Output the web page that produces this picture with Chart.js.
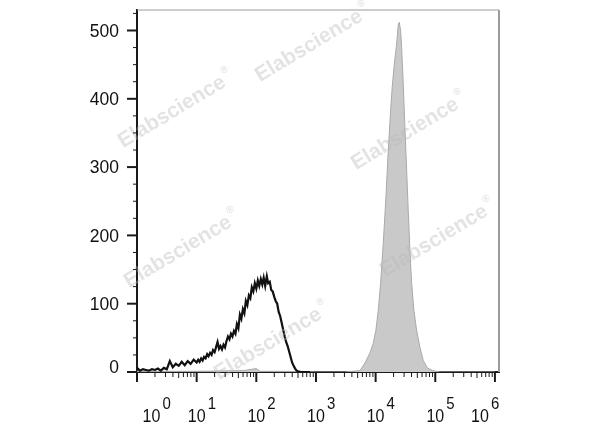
<!DOCTYPE html>
<html><head><meta charset="utf-8">
<script src="https://cdn.jsdelivr.net/npm/chart.js@4.4.1/dist/chart.umd.min.js"></script>
<style>html,body{margin:0;padding:0;background:#fff;}canvas{display:block;}</style>
</head><body>
<canvas id="c" width="600" height="427"></canvas>
<script>
// ---- data ----
// black (unstained / control) histogram: fluorescence intensity and counts
const blackX = [1.0,1.12,1.26,1.41,1.58,1.78,2.0,2.24,2.51,2.82,3.16,3.55,3.98,4.47,5.01,5.62,6.31,7.08,7.94,8.91,
  10,10.6,11.2,11.9,12.6,13.3,14.1,15.0,15.8,16.8,17.8,18.8,20,21.1,22.4,23.7,25.1,26.6,28.2,29.9,
  31.6,33.5,35.5,37.6,39.8,42.2,44.7,47.3,50.1,53.1,56.2,59.6,63.1,66.8,70.8,75.0,79.4,84.1,89.1,94.4,
  100,106,112,119,126,133,141,150,158,168,178,188,200,211,224,237,251,266,282,299,
  316,335,355,376,398,422,447,474,501,562,631,800];
const blackY = [6,2,4,3,2,4,3,5,2,6,4,16,7,12,9,15,10,16,12,18,
  14,18,15,20,17,22,20,26,23,28,25,32,29,36,44,34,38,33,40,36,
  45,52,48,56,52,60,56,70,64,84,78,92,86,104,98,112,108,124,118,130,
  122,134,126,136,128,138,126,140,130,132,120,118,110,104,100,88,82,72,62,52,
  44,38,30,22,14,9,5,2,1,0,0,0];

// gray (stained) histogram: fluorescence intensity and counts
const grayX = [1,10,60,100,115,300,1000,3000,5460,6620,8040,9120,10100,11070,12130,13430,14890,16290,17860,
  19010,20510,22490,23930,24890,26240,27290,29040,30970,33110,35240,37580,40180,43850,48640,55340,62810,
  73280,91410,120000,1000000];
const grayY = [1,1,2,5,1,1,0,0,2,13,28,42,61,90,130,188,256,324,383,
  418,450,480,508,512,500,475,422,358,296,236,178,130,90,61,36,17,
  6,2,0,0];

// axis ticks
const yTickValues = [0,100,200,300,400,500];
const yTickLabels = ['0','100','200','300','400','500'];
const yMinorStep = 25;
const xDecadeExponents = [0,1,2,3,4,5,6];
const xTickBase = '10';
const xTickExponents = ['0','1','2','3','4','5','6'];
const watermarkText = 'Elabscience';

const toPoints = (xs, ys) => xs.map((v, i) => ({x: v, y: ys[i]}));

const watermarkPlugin = {
  id: 'watermark',
  afterDatasetsDraw(chart) {
    const ctx = chart.ctx;
    const spots = [[309,46],[172,112],[405,134],[434,241],[178,252],[268,344]];
    ctx.save();
    ctx.fillStyle = 'rgba(185,185,185,0.4)';
    spots.forEach(([cx, cy]) => {
      ctx.save();
      ctx.translate(cx, cy);
      ctx.rotate(-31 * Math.PI / 180);
      ctx.font = 'bold 21px "Liberation Sans", Arial, sans-serif';
      ctx.textAlign = 'center';
      ctx.textBaseline = 'middle';
      ctx.fillText(watermarkText, 0, 0);
      const w = ctx.measureText(watermarkText).width;
      ctx.font = 'bold 10px "Liberation Sans", Arial, sans-serif';
      ctx.textAlign = 'left';
      ctx.fillText('\u00AE', w / 2 + 2, -9);
      ctx.restore();
    });
    ctx.restore();
  }
};

const axisPlugin = {
  id: 'axisDecor',
  afterDraw(chart) {
    const {ctx, chartArea: a, scales: {x, y}} = chart;
    ctx.save();
    // top and right frame
    ctx.strokeStyle = '#9c9c9c';
    ctx.lineWidth = 1.2;
    ctx.beginPath(); ctx.moveTo(a.left, a.top); ctx.lineTo(a.right, a.top); ctx.stroke();
    ctx.lineWidth = 2;
    ctx.beginPath(); ctx.moveTo(a.right, a.top); ctx.lineTo(a.right, a.bottom); ctx.stroke();

    // y ticks
    ctx.strokeStyle = '#1a1a1a';
    const yMax = y.max;
    for (let v = 0; v <= yMax; v += yMinorStep) {
      const py = y.getPixelForValue(v);
      const major = yTickValues.includes(v);
      ctx.lineWidth = major ? 2 : 1;
      ctx.beginPath();
      ctx.moveTo(a.left - (major ? 10 : 4), py);
      ctx.lineTo(a.left, py);
      ctx.stroke();
    }
    // y labels
    ctx.fillStyle = '#111';
    ctx.font = '17px "Liberation Sans", Arial, sans-serif';
    ctx.textAlign = 'right';
    ctx.textBaseline = 'middle';
    yTickValues.forEach((v, i) => {
      let py = y.getPixelForValue(v);
      if (v === 0) py -= 5;
      ctx.save();
      ctx.translate(a.left - 18, py + 1);
      ctx.scale(1.03, 1.1);
      ctx.fillText(yTickLabels[i], 0, 0);
      ctx.restore();
    });

    // x ticks (log)
    xDecadeExponents.forEach((e) => {
      const base = Math.pow(10, e);
      const px = x.getPixelForValue(base);
      ctx.lineWidth = 2;
      ctx.beginPath(); ctx.moveTo(px, a.bottom); ctx.lineTo(px, a.bottom + 10); ctx.stroke();
      if (e < 6) {
        for (let m = 2; m <= 9; m++) {
          const pm = x.getPixelForValue(m * base);
          ctx.lineWidth = 1;
          ctx.beginPath(); ctx.moveTo(pm, a.bottom); ctx.lineTo(pm, a.bottom + (m === 5 ? 6 : 5)); ctx.stroke();
        }
      }
    });
    // x labels 10^k
    xDecadeExponents.forEach((e, i) => {
      let cx = x.getPixelForValue(Math.pow(10, e));
      cx = Math.min(Math.max(cx, a.left + 14.5), a.right - 19);
      ctx.save();
      ctx.translate(cx, 416.5);
      ctx.scale(1, 1.2);
      ctx.font = '16px "Liberation Sans", Arial, sans-serif';
      ctx.textAlign = 'center';
      ctx.textBaseline = 'middle';
      ctx.fillText(xTickBase, 0, 0);
      ctx.restore();
      ctx.save();
      ctx.translate(cx + 11, 404);
      ctx.scale(1, 1.1);
      ctx.font = '15px "Liberation Sans", Arial, sans-serif';
      ctx.textAlign = 'left';
      ctx.textBaseline = 'middle';
      ctx.fillText(xTickExponents[i], 0, 0);
      ctx.restore();
    });
    ctx.restore();
  }
};

new Chart(document.getElementById('c'), {
  type: 'line',
  data: {
    datasets: [
      {
        label: 'Control',
        data: toPoints(blackX, blackY),
        borderColor: '#111',
        borderWidth: 2.2,
        pointRadius: 0,
        fill: false,
        tension: 0
      },
      {
        label: 'Stained',
        data: toPoints(grayX, grayY),
        borderColor: '#a9a9a9',
        backgroundColor: '#c9c9c9',
        borderWidth: 1,
        pointRadius: 0,
        fill: 'origin',
        tension: 0
      }
    ]
  },
  options: {
    responsive: false,
    animation: false,
    events: [],
    layout: { padding: { left: 137, right: 101, top: 10, bottom: 55 } },
    plugins: { legend: { display: false }, tooltip: { enabled: false } },
    scales: {
      x: {
        type: 'logarithmic',
        min: 1,
        max: 1170000,
        grid: { display: false, drawTicks: false },
        ticks: { display: false },
        border: { display: true, color: '#1a1a1a', width: 2 }
      },
      y: {
        type: 'linear',
        min: 0,
        max: 530,
        grid: { display: false, drawTicks: false },
        ticks: { display: false },
        border: { display: true, color: '#1a1a1a', width: 2 }
      }
    }
  },
  plugins: [watermarkPlugin, axisPlugin]
});
</script>
</body></html>
